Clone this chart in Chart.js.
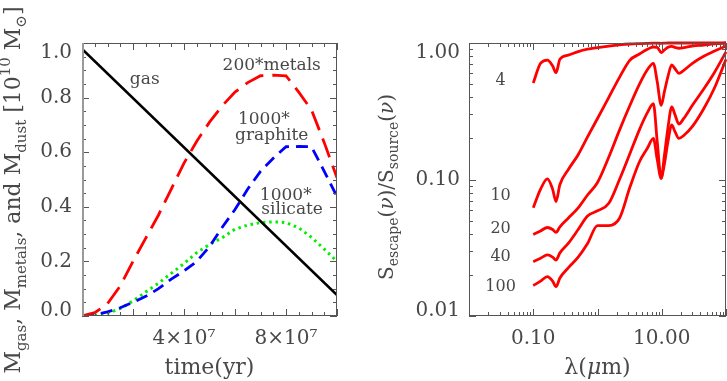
<!DOCTYPE html>
<html>
<head>
<meta charset="utf-8">
<script src="https://cdn.jsdelivr.net/npm/chart.js@4.4.1/dist/chart.umd.min.js"></script>
<style>
  html, body { margin: 0; padding: 0; background: #fff; }
  #wrap { position: relative; width: 727px; height: 381px; overflow: hidden; }
  #left { position: absolute; left: 0; top: 0; }
  #right { position: absolute; left: 360px; top: 0; }
</style>
</head>
<body>
<div id="wrap">
  <canvas id="left" width="360" height="381"></canvas>
  <canvas id="right" width="367" height="381"></canvas>
</div>
<script>
// ---- left panel: mass evolution (units of 1e10 Msun) ----
const time = [0, 0.5e7, 1e7, 1.5e7, 2e7, 2.5e7, 3e7, 3.5e7, 4e7, 4.5e7, 5e7,
              5.5e7, 6e7, 6.5e7, 7e7, 7.5e7, 8e7, 8.5e7, 9e7, 9.5e7, 1e8];
const metals200 = [0, 0.012, 0.045, 0.11, 0.2, 0.285, 0.37, 0.465, 0.56, 0.64, 0.71,
                   0.77, 0.82, 0.855, 0.88, 0.882, 0.88, 0.82, 0.755, 0.635, 0.506];
const graphite1000 = [0, 0.005, 0.015, 0.03, 0.05, 0.072, 0.1, 0.135, 0.165, 0.2, 0.254,
                      0.325, 0.39, 0.465, 0.53, 0.578, 0.62, 0.621, 0.62, 0.53, 0.4375];
const silicate1000 = [0, 0.002, 0.01, 0.027, 0.055, 0.088, 0.12, 0.156, 0.192, 0.232, 0.262,
                      0.287, 0.318, 0.333, 0.342, 0.345, 0.342, 0.323, 0.288, 0.245, 0.2];
const gasTime = [0, 1e8];
const gasMass = [0.978, 0.077];
const timeTicks = [4e7, 8e7];
const massTicks = [0, 0.2, 0.4, 0.6, 0.8, 1.0];
const massNotes = ['gas', '200*metals', '1000*', 'graphite', '1000*', 'silicate'];
const massNoteTime = [2.46e7, 7.44e7, 7.13e7, 7.44e7, 7.99e7, 8.24e7];
const massNoteValue = [0.865, 0.917, 0.719, 0.66, 0.44, 0.389];

// ---- right panel: escape fraction vs wavelength ----
const lambda = [0.1, 0.13, 0.166, 0.2, 0.226, 0.26, 0.35, 0.5, 0.7, 1.0, 1.5, 2.2, 3.2, 4.5,
                6, 7.4, 8.5, 9.8, 11, 12.5, 14.3, 16, 18.5, 22, 30, 45, 65, 100];
const esc4 = [0.51, 0.71, 0.75, 0.68, 0.606, 0.76, 0.815, 0.865, 0.9, 0.925, 0.95, 0.97, 0.983, 0.99,
              0.995, 0.997, 0.997, 0.995, 0.997, 1, 1, 1, 1, 1, 1, 1, 1, 1];
const esc10 = [0.062, 0.085, 0.101, 0.085, 0.069, 0.092, 0.118, 0.152, 0.205, 0.28, 0.4, 0.56, 0.75, 0.83,
               0.9, 0.935, 0.93, 0.85, 0.89, 0.93, 0.945, 0.93, 0.915, 0.925, 0.95, 0.967, 0.985, 1.0];
const esc20 = [0.0395, 0.042, 0.0445, 0.043, 0.041, 0.045, 0.052, 0.062, 0.077, 0.095, 0.146, 0.23, 0.35, 0.5,
               0.64, 0.71, 0.52, 0.35, 0.44, 0.57, 0.69, 0.65, 0.6, 0.63, 0.71, 0.8, 0.87, 0.95];
const esc40 = [0.025, 0.0265, 0.028, 0.027, 0.0257, 0.029, 0.034, 0.043, 0.054, 0.059, 0.067, 0.1, 0.155, 0.232,
               0.31, 0.36, 0.19, 0.102, 0.15, 0.24, 0.341, 0.3, 0.255, 0.28, 0.35, 0.46, 0.6, 0.86];
const esc100 = [0.0167, 0.018, 0.0194, 0.018, 0.0164, 0.019, 0.0225, 0.027, 0.034, 0.046, 0.046, 0.052, 0.088, 0.135,
                0.17, 0.2, 0.14, 0.102, 0.13, 0.19, 0.251, 0.225, 0.2, 0.21, 0.245, 0.33, 0.46, 0.76];
const escTicksX = [0.1, 10];
const escTicksY = [0.01, 0.1, 1];
const escNotes = ['4', '10', '20', '40', '100'];
const escNoteLambda = [0.031, 0.031, 0.031, 0.031, 0.031];
const escNoteValue = [0.527, 0.0757, 0.0434, 0.027, 0.0163];

const FONT = '"DejaVu Serif", "Liberation Serif", serif';
const INK = '#484848';

function pts(xs, ys) {
  return xs.map((x, i) => ({ x: x, y: ys[i] }));
}

// text made of pieces: [text, size, baseline shift, style]
function drawRich(ctx, parts, x, y, rot) {
  ctx.save();
  ctx.translate(x, y);
  ctx.rotate(rot);
  ctx.fillStyle = INK;
  ctx.textAlign = 'left';
  ctx.textBaseline = 'alphabetic';
  let total = 0;
  parts.forEach(p => {
    ctx.font = (p[3] || '') + ' ' + p[1] + 'px ' + FONT;
    total += ctx.measureText(p[0]).width;
  });
  let cx = -total / 2;
  parts.forEach(p => {
    ctx.font = (p[3] || '') + ' ' + p[1] + 'px ' + FONT;
    ctx.fillText(p[0], cx, p[2] || 0);
    cx += ctx.measureText(p[0]).width;
  });
  ctx.restore();
}

// box, inward ticks, axis titles and curve notes
const framePlugin = {
  id: 'frame',
  afterDraw(chart, args, o) {
    const { ctx, chartArea: a, scales } = chart;
    ctx.save();
    ctx.strokeStyle = '#555';
    ctx.lineWidth = 1;
    function seg(x1, y1, x2, y2) {
      ctx.beginPath(); ctx.moveTo(x1, y1); ctx.lineTo(x2, y2); ctx.stroke();
    }
    o.xTicks.forEach(t => {
      const px = Math.round(scales.x.getPixelForValue(t[0])) + 0.5;
      const len = t[1] ? 7 : 4;
      seg(px, a.bottom, px, a.bottom - len);
      seg(px, a.top, px, a.top + len);
    });
    o.yTicks.forEach(t => {
      const py = Math.round(scales.y.getPixelForValue(t[0])) + 0.5;
      const len = t[1] ? 7 : 4;
      seg(a.left, py, a.left + len, py);
      seg(a.right, py, a.right - len, py);
    });
    ctx.strokeRect(a.left + 0.5, a.top + 0.5, a.width - 1, a.height - 1);
    if (o.softLeft) {
      ctx.strokeStyle = '#9a9a9a';
      ctx.lineWidth = 2;
      seg(a.left + 1, a.top, a.left + 1, a.bottom);
    }
    // notes placed in data units
    ctx.fillStyle = INK;
    ctx.textAlign = 'center';
    ctx.textBaseline = 'middle';
    ctx.font = o.noteSize + 'px ' + FONT;
    o.notes.forEach((txt, i) => {
      ctx.fillText(txt, scales.x.getPixelForValue(o.noteX[i]), scales.y.getPixelForValue(o.noteY[i]));
    });
    ctx.restore();
    drawRich(ctx, o.xTitle, (a.left + a.right) / 2, 374, 0);
    drawRich(ctx, o.yTitle, o.yTitleX, o.yTitleY, -Math.PI / 2);
  }
};

// the end labels of the y axes sit a little inside the box, as in the original
function endLabel(text, index, count) {
  if (index === count - 1) return ['', text];
  if (index === 0) return [text, ''];
  return text;
}
function yTickFont(bottomValue, topValue) {
  return function(c) {
    const v = c.tick ? c.tick.value : null;
    let lh = 24;
    if (v === topValue) lh = 19;
    if (v === bottomValue) lh = 11;
    return { family: FONT, size: 20, lineHeight: lh + 'px' };
  };
}

// ---------- left chart ----------
const leftXTicks = [];
for (let t = 0; t <= 1e8 + 1; t += 5e6) leftXTicks.push([t, Math.round(t / 5e6) % 4 === 0]);
const leftYTicks = [];
for (let k = 0; k <= 20; k++) leftYTicks.push([k * 0.05, k % 4 === 0]);

new Chart(document.getElementById('left'), {
  type: 'line',
  data: {
    datasets: [
      { label: 'gas', data: pts(gasTime, gasMass), borderColor: '#000000', borderWidth: 2.6 },
      { label: '200*metals', data: pts(time, metals200), borderColor: '#ff0000', borderWidth: 2.8, borderDash: [20, 9] },
      { label: '1000*graphite', data: pts(time, graphite1000), borderColor: '#0000ff', borderWidth: 2.8, borderDash: [12, 7] },
      { label: '1000*silicate', data: pts(time, silicate1000), borderColor: '#00ee00', borderWidth: 3, borderDash: [2.5, 3.8] }
    ]
  },
  options: {
    responsive: false,
    animation: false,
    layout: { padding: { top: 43, right: 23, left: 0, bottom: 0 } },
    elements: { point: { radius: 0 }, line: { tension: 0, borderCapStyle: 'butt' } },
    plugins: {
      legend: { display: false },
      tooltip: { enabled: false },
      frame: {
        xTicks: leftXTicks,
        yTicks: leftYTicks,
        softLeft: true,
        notes: massNotes, noteX: massNoteTime, noteY: massNoteValue, noteSize: 17,
        xTitle: [['time(yr)', 22]],
        yTitle: [['M', 22], ['gas', 15, 6], [', M', 22], ['metals', 15, 6], [', and M', 22], ['dust', 15, 6],
                 [' [10', 22], ['10', 15, -10], [' M', 22], ['\u2299', 15, 6], [']', 22]],
        yTitleX: 20, yTitleY: 190
      }
    },
    scales: {
      x: {
        type: 'linear', min: 0, max: 1e8,
        grid: { display: false, drawTicks: false }, border: { display: false },
        afterFit(s) { s.height = 65; },
        afterBuildTicks(s) { s.ticks = timeTicks.map(v => ({ value: v })); },
        ticks: { padding: 11, maxRotation: 0, autoSkip: false, color: INK, font: { family: FONT, size: 20 },
                 callback: v => (v / 1e7) + '\u00d710\u2077' }
      },
      y: {
        type: 'linear', min: 0, max: 1.0,
        grid: { display: false, drawTicks: false }, border: { display: false },
        afterFit(s) { s.width = 82; },
        afterBuildTicks(s) { s.ticks = massTicks.map(v => ({ value: v })); },
        ticks: { padding: 10, color: INK, font: yTickFont(0, 1.0),
                 callback: (v, i, all) => endLabel(v.toFixed(1), i, all.length) }
      }
    }
  },
  plugins: [framePlugin]
});

// ---------- right chart ----------
const rightXTicks = [];
[0.01, 0.1, 1, 10].forEach(d => { for (let k = 1; k <= 9; k++) rightXTicks.push([k * d, k === 1]); });
rightXTicks.push([100, true]);
const rightYTicks = [];
[0.01, 0.1].forEach(d => { for (let k = 1; k <= 9; k++) rightYTicks.push([k * d, k === 1]); });
rightYTicks.push([1, true]);

const escSeries = [esc4, esc10, esc20, esc40, esc100];

new Chart(document.getElementById('right'), {
  type: 'line',
  data: {
    datasets: escSeries.map((s, i) => ({
      label: escNotes[i], data: pts(lambda, s), borderColor: '#ff0000', borderWidth: 2.8,
      cubicInterpolationMode: 'monotone', clip: 3
    }))
  },
  options: {
    responsive: false,
    animation: false,
    layout: { padding: { top: 43, right: 1, left: 0, bottom: 0 } },
    elements: { point: { radius: 0 } },
    plugins: {
      legend: { display: false },
      tooltip: { enabled: false },
      frame: {
        xTicks: rightXTicks,
        yTicks: rightYTicks,
        softLeft: false,
        notes: escNotes, noteX: escNoteLambda, noteY: escNoteValue, noteSize: 16,
        xTitle: [['\u03bb(', 22], ['\u03bc', 22, 0, 'italic'], ['m)', 22]],
        yTitle: [['S', 20], ['escape', 14, 5], ['(', 20], ['\u03bd', 20, 0, 'italic'], [')/S', 20],
                 ['source', 14, 5], ['(', 20], ['\u03bd', 20, 0, 'italic'], [')', 20]],
        yTitleX: 33, yTitleY: 187
      }
    },
    scales: {
      x: {
        type: 'logarithmic', min: 0.01, max: 100,
        grid: { display: false, drawTicks: false }, border: { display: false },
        afterFit(s) { s.height = 65; },
        afterBuildTicks(s) { s.ticks = escTicksX.map(v => ({ value: v })); },
        ticks: { padding: 11, maxRotation: 0, autoSkip: false, color: INK, font: { family: FONT, size: 20 },
                 callback: v => Number(v).toFixed(2) }
      },
      y: {
        type: 'logarithmic', min: 0.01, max: 1,
        grid: { display: false, drawTicks: false }, border: { display: false },
        afterFit(s) { s.width = 109; },
        afterBuildTicks(s) { s.ticks = escTicksY.map(v => ({ value: v })); },
        ticks: { padding: 9, color: INK, font: yTickFont(0.01, 1),
                 callback: (v, i, all) => endLabel(Number(v).toFixed(2), i, all.length) }
      }
    }
  },
  plugins: [framePlugin]
});
</script>
</body>
</html>
